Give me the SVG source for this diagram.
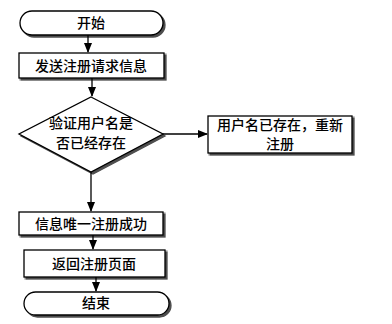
<svg xmlns="http://www.w3.org/2000/svg" width="392" height="324" viewBox="0 0 392 324">
<defs>
<marker id="arr" markerWidth="10" markerHeight="8" refX="9" refY="4" orient="auto" markerUnits="userSpaceOnUse">
<path d="M0,0 L10,4 L0,8 Z" fill="#000"/>
</marker>
<filter id="sh" x="-10%" y="-20%" width="130%" height="160%">
<feOffset dx="1.5" dy="1.5" in="SourceAlpha" result="o"/>
<feComponentTransfer in="o" result="o2"><feFuncA type="linear" slope="0.7"/></feComponentTransfer>
<feMerge><feMergeNode in="o2"/><feMergeNode in="SourceGraphic"/></feMerge>
</filter>
</defs>
<style>
.n{fill:#fff;stroke:#000;stroke-width:1.3;filter:url(#sh)}
.t{font-family:"Liberation Serif","Noto Sans CJK SC",serif;font-size:14px;font-weight:500;text-anchor:middle;dominant-baseline:central;fill:#000}
.c{stroke:#000;stroke-width:1.3;fill:none;marker-end:url(#arr)}
</style>
<rect width="392" height="324" fill="#fff"/>
<g id="connectors">
<line class="c" x1="88" y1="35" x2="88" y2="52"/>
<line class="c" x1="92" y1="78" x2="92" y2="96"/>
<line class="c" x1="163" y1="134" x2="207" y2="134"/>
<line class="c" x1="91" y1="172" x2="91" y2="211"/>
<line class="c" x1="93" y1="235" x2="93" y2="249"/>
<line class="c" x1="96" y1="277" x2="96" y2="291"/>
</g>
<g id="start">
<rect class="n" x="20" y="11" width="143" height="24" rx="12" ry="12"/>
<text class="t" x="91" y="23">开始</text>
</g>
<g id="send">
<rect class="n" x="19" y="53" width="145" height="25"/>
<text class="t" x="91" y="66">发送注册请求信息</text>
</g>
<g id="verify">
<polygon class="n" points="91,97 163,134 91,172 19,134"/>
<text class="t" x="91" y="123">验证用户名是</text>
<text class="t" x="91" y="143">否已经存在</text>
</g>
<g id="exists">
<rect class="n" x="208" y="116" width="144" height="37"/>
<text class="t" x="280" y="125">用户名已存在，重新</text>
<text class="t" x="280" y="144">注册</text>
</g>
<g id="success">
<rect class="n" x="19" y="212" width="144" height="23"/>
<text class="t" x="91" y="224">信息唯一注册成功</text>
</g>
<g id="return">
<rect class="n" x="24" y="250" width="141" height="27"/>
<text class="t" x="94" y="264">返回注册页面</text>
</g>
<g id="end">
<rect class="n" x="24" y="292" width="145" height="23" rx="11.5" ry="11.5"/>
<text class="t" x="96" y="303">结束</text>
</g>
</svg>
